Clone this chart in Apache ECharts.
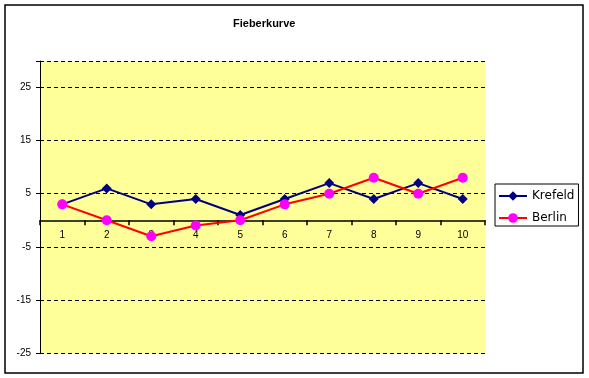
<!DOCTYPE html>
<html>
<head>
<meta charset="utf-8">
<script src="https://cdn.jsdelivr.net/npm/echarts@6/dist/echarts.min.js"></script>
<style>
  html, body { margin: 0; padding: 0; background: #fff; }
  #chart { width: 589px; height: 378px; }
</style>
</head>
<body>
<div id="chart"></div>
<script>
// Fieberkurve – Temperaturverlauf Krefeld / Berlin
const days = ['1', '2', '3', '4', '5', '6', '7', '8', '9', '10'];
const krefeld = [3, 6, 3, 4, 1, 4, 7, 4, 7, 4];
const berlin = [3, 0, -3, -1, 0, 3, 5, 8, 5, 8];
const yTicks = [-25, -15, -5, 5, 15, 25];

const font = 'Liberation Sans, Arial, sans-serif';
const chart = echarts.init(document.getElementById('chart'));

chart.setOption({
  animation: false,
  backgroundColor: '#fff',
  title: {
    text: 'Fieberkurve',
    left: 228,
    top: 13,
    textStyle: { fontSize: 11, fontWeight: 'bold', color: '#000', fontFamily: font },
  },
  graphic: [
    {
      type: 'rect',
      z: -10,
      shape: { x: 5, y: 5, width: 578, height: 368 },
      style: { fill: 'none', stroke: '#000', lineWidth: 1.5 },
      silent: true,
    },
  ],
  legend: {
    orient: 'vertical',
    left: 495,
    top: 184,
    padding: [6, 4, 2, 3],
    itemGap: 10,
    itemWidth: 28,
    itemHeight: 12,
    borderColor: '#000',
    borderWidth: 1,
    textStyle: { fontSize: 12, color: '#000', fontFamily: 'DejaVu Sans, sans-serif' },
    data: ['Krefeld', 'Berlin'],
  },
  grid: {
    left: 40,
    right: 104,
    top: 61,
    bottom: 25,
    show: true,
    backgroundColor: '#FFFF99',
    borderWidth: 0,
  },
  xAxis: {
    type: 'category',
    data: days,
    z: 1,
    boundaryGap: true,
    axisLine: { show: true, onZero: true, lineStyle: { color: '#000', width: 1.5 } },
    axisTick: { show: true, length: 5, lineStyle: { color: '#000', width: 1.5 } },
    axisLabel: { margin: 9, fontSize: 10, color: '#000', fontFamily: font },
  },
  yAxis: {
    type: 'value',
    min: -25,
    max: 30,
    interval: 10,
    axisLine: { show: true, lineStyle: { color: '#000', width: 1 } },
    axisTick: { show: true, length: 4, lineStyle: { color: '#000' } },
    axisLabel: {
      margin: 9,
      fontSize: 10,
      color: '#000',
      fontFamily: font,
      formatter: (v) => (v === 30 ? '' : String(v)),
    },
    splitLine: {
      show: true,
      lineStyle: { color: '#000', width: 1, type: [4, 3] },
    },
  },
  series: [
    {
      name: 'Krefeld',
      type: 'line',
      data: krefeld,
      symbol: 'diamond',
      symbolSize: 10,
      lineStyle: { color: '#000080', width: 2 },
      itemStyle: { color: '#000080' },
    },
    {
      name: 'Berlin',
      type: 'line',
      data: berlin,
      symbol: 'circle',
      symbolSize: 10,
      lineStyle: { color: '#FF0000', width: 2 },
      itemStyle: { color: '#FF00FF' },
    },
  ],
});

// Die Linie sitzt auf null, die Beschriftung bleibt in v6 unten: per margin hochziehen
const zeroY = chart.convertToPixel({ yAxisIndex: 0 }, 0);
const bottomY = chart.convertToPixel({ yAxisIndex: 0 }, -25);
chart.setOption({ xAxis: { axisLabel: { margin: zeroY + 10 - bottomY } } });
</script>
</body>
</html>
